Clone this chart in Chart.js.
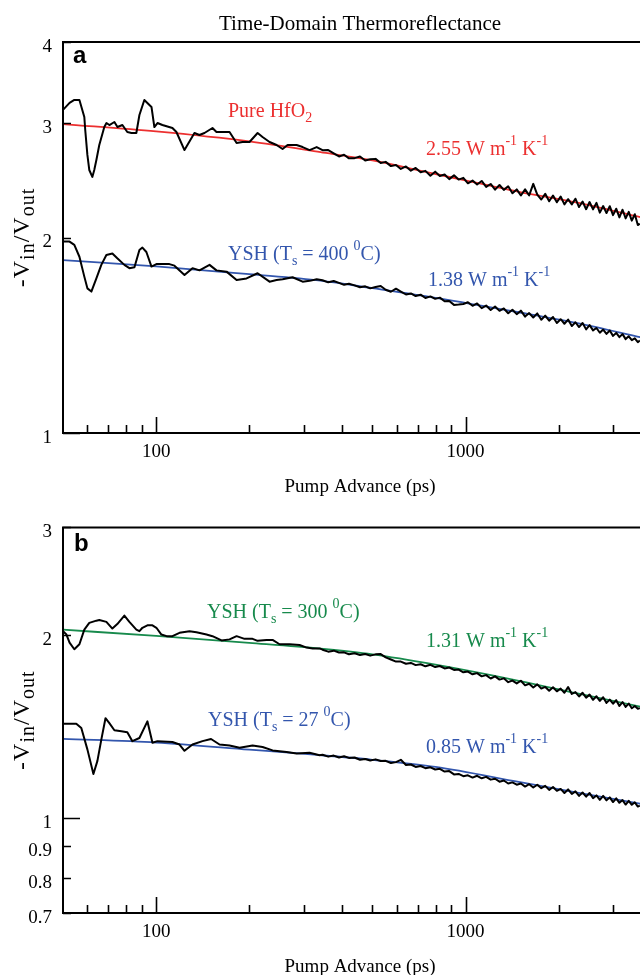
<!DOCTYPE html>
<html><head><meta charset="utf-8">
<script src="https://cdn.jsdelivr.net/npm/chart.js@4/dist/chart.umd.min.js"></script>
<style>
html,body{margin:0;padding:0;overflow:hidden;background:#fff;width:640px;height:975px;}
#wrapA{position:absolute;left:0;top:0;width:720px;height:505px;}
#wrapB{position:absolute;left:0;top:505px;width:720px;height:490px;}
canvas{display:block;}
</style></head><body>
<div id="wrapA"><canvas id="cA" width="720" height="505"></canvas></div>
<div id="wrapB"><canvas id="cB" width="720" height="490"></canvas></div>
<script>
// ---------- DATA ----------
const tailTimes = [345,360,375,390,405,420,438,456,474,492,512,532,552,574,596,618,642,666,690,716,742,770,798,826,856,886,918,950,984,1018,1054,1090,1128,1166,1206,1246,1288,1330,1374,1418,1464,1510,1558,1606,1656,1706,1758,1810,1864,1918,1974,2030,2088,2146,2206,2266,2328,2390,2454,2518,2584,2650,2718,2786,2856,2926,2998,3070,3144,3218,3294,3370,3448,3526,3606,3660];

const hfo2EarlyT = [50,52.5,54.4,56.5,58.6,59.0,59.95,60.8,62.2,63.1,64.1,65.5,68.0,69.1,70.6,73.3,75.0,77.8,80.7,83.2,86.3,88.3,91.6,93.7,96.6,98.7,101,104.8,112.9,116.3,123.5,133,138,143.3,152.1,156.7,162.7,172.7,182,190.3,200.4,212.8,220.8,232.6,245.1,256.3,266,284.5,297.5,313.4,330.3];
const hfo2EarlyV = [3.144,3.223,3.257,3.257,3.066,2.928,2.680,2.541,2.479,2.541,2.633,2.776,2.959,3.001,2.98,3.012,2.959,2.98,2.907,2.897,2.897,3.088,3.257,3.223,3.177,2.959,3.001,2.98,2.949,2.907,2.727,2.897,2.876,2.897,2.949,2.907,2.907,2.907,2.796,2.806,2.806,2.897,2.856,2.806,2.776,2.737,2.776,2.776,2.756,2.727,2.756];
const hfo2TailV = [2.726,2.727,2.695,2.666,2.682,2.648,2.650,2.666,2.628,2.639,2.643,2.604,2.615,2.576,2.587,2.550,2.573,2.535,2.559,2.521,2.533,2.490,2.526,2.487,2.500,2.460,2.493,2.456,2.471,2.424,2.447,2.414,2.444,2.393,2.418,2.370,2.409,2.368,2.398,2.340,2.372,2.321,2.372,2.322,2.419,2.329,2.288,2.335,2.274,2.321,2.266,2.313,2.249,2.291,2.249,2.295,2.228,2.272,2.211,2.268,2.210,2.261,2.184,2.236,2.181,2.235,2.165,2.215,2.148,2.207,2.140,2.190,2.123,2.172,2.090,2.100];

const ysh400EarlyT = [50,52.5,54.4,56.5,58.6,59.95,61.75,64.1,66.5,69.05,72.2,74.9,78.95,81.95,85.1,88.3,90.3,93.0,96.6,100.2,110.4,114.6,123.5,131.1,138.1,148.8,156.7,168.9,182,196,212.8,232.6,245.1,256.3,276.1,297.5,313.4,330.3];
const ysh400EarlyV = [1.971,1.971,1.948,1.868,1.741,1.670,1.651,1.730,1.815,1.880,1.890,1.858,1.815,1.794,1.80,1.913,1.93,1.90,1.804,1.82,1.82,1.81,1.751,1.794,1.78,1.815,1.78,1.772,1.720,1.73,1.762,1.710,1.72,1.725,1.737,1.71,1.715,1.725];
const ysh400TailV = [1.719,1.706,1.714,1.703,1.691,1.698,1.688,1.677,1.682,1.670,1.678,1.684,1.662,1.650,1.668,1.651,1.634,1.640,1.625,1.633,1.614,1.623,1.609,1.616,1.595,1.597,1.575,1.577,1.580,1.590,1.570,1.583,1.557,1.571,1.547,1.566,1.542,1.555,1.529,1.548,1.524,1.543,1.511,1.530,1.506,1.528,1.494,1.516,1.489,1.509,1.477,1.497,1.473,1.495,1.461,1.481,1.456,1.477,1.444,1.466,1.439,1.451,1.427,1.443,1.421,1.438,1.411,1.426,1.405,1.420,1.395,1.409,1.390,1.399,1.380,1.388];

const ysh300EarlyT = [50,51.3,52.5,54.4,56.5,58.6,60.8,64.1,65.5,69.05,72.2,74.9,78.95,81.95,86.3,88.3,90.3,93.7,97.3,100.2,104,108.1,112.9,119,128.2,135,145.5,152.1,162.7,172.7,182,193.1,205,212.8,227.5,237.9,250.6,270,290.9,306.5,320.6,337.8];
const ysh300EarlyV = [2.028,2.002,1.942,1.894,1.930,2.04,2.092,2.11,2.115,2.10,2.048,2.083,2.151,2.10,2.04,2.028,2.054,2.073,2.073,2.054,2.002,1.99,1.99,2.015,2.028,2.02,2.002,1.99,1.958,1.966,1.99,1.97,1.97,1.955,1.962,1.962,1.930,1.93,1.925,1.906,1.90,1.90];
const ysh300TailV = [1.891,1.877,1.884,1.871,1.872,1.859,1.866,1.853,1.860,1.849,1.858,1.860,1.837,1.822,1.808,1.808,1.793,1.799,1.784,1.790,1.776,1.786,1.771,1.778,1.762,1.768,1.752,1.754,1.736,1.741,1.723,1.731,1.710,1.718,1.696,1.710,1.689,1.697,1.673,1.683,1.665,1.682,1.653,1.663,1.639,1.659,1.633,1.643,1.620,1.641,1.616,1.633,1.607,1.642,1.600,1.611,1.585,1.607,1.578,1.596,1.565,1.586,1.559,1.580,1.547,1.566,1.542,1.563,1.529,1.552,1.524,1.543,1.516,1.529,1.513,1.517];

const ysh27EarlyT = [50,55.2,57.3,59.95,62.7,64.6,66.5,68.6,70.6,73.3,77.2,80.7,83.8,88.3,93.7,97.3,101,112.9,119,123.5,131.1,141.2,150.5,160.3,172.7,186.1,205,220.8,237.9,264,284.5,313.4,337.8];
const ysh27EarlyV = [1.43,1.43,1.407,1.298,1.183,1.243,1.347,1.460,1.433,1.395,1.39,1.385,1.339,1.355,1.443,1.331,1.339,1.335,1.322,1.291,1.322,1.339,1.350,1.322,1.317,1.306,1.317,1.31,1.293,1.285,1.278,1.282,1.27];
const ysh27TailV = [1.272,1.263,1.268,1.259,1.265,1.257,1.259,1.248,1.252,1.245,1.250,1.242,1.243,1.233,1.237,1.248,1.224,1.226,1.215,1.219,1.209,1.213,1.203,1.206,1.194,1.196,1.181,1.183,1.173,1.177,1.167,1.175,1.164,1.170,1.158,1.162,1.149,1.154,1.141,1.146,1.136,1.141,1.128,1.138,1.124,1.136,1.121,1.131,1.114,1.126,1.110,1.118,1.101,1.116,1.097,1.108,1.089,1.103,1.086,1.101,1.080,1.091,1.073,1.089,1.071,1.083,1.064,1.079,1.061,1.072,1.054,1.069,1.053,1.063,1.046,1.050];

const fitTimes = [50,100,200,340,500,800,1500,2300,3700];
const fitHfO2  = [2.990,2.913,2.812,2.707,2.628,2.505,2.350,2.263,2.147];
const fitYSH400 = [1.846,1.806,1.756,1.716,1.671,1.615,1.533,1.476,1.403];
const fitYSH300 = [2.039,1.992,1.940,1.898,1.858,1.787,1.680,1.603,1.524];
const fitYSH27  = [1.351,1.332,1.297,1.270,1.248,1.215,1.147,1.103,1.057];

const xTicks = [60,70,80,90,100,200,300,400,500,600,700,800,900,1000,2000,3000,4000];
const xLabels = [100,1000];
const yTicksA = [1,2,3,4];
const yTicksB = [0.7,0.8,0.9,1,2,3];
const yMajor = [1];

// ---------- STYLE ----------
const SERIF = '"Liberation Serif", "Times New Roman", serif';
const RED = '#ec3030', BLUE = '#3356ad', GREEN = '#178a4c';
Chart.defaults.font.family = SERIF;
Chart.defaults.color = '#000';

function pts(ts, vs){ return ts.map((t,i)=>({x:t, y:vs[i]})); }

function rich(ctx, parts, x, y, opt){
  const big = opt.big + 'px ' + SERIF, small = opt.small + 'px ' + SERIF;
  let w = 0;
  parts.forEach(([t,m]) => { ctx.font = m ? small : big; w += ctx.measureText(t).width; });
  let cx = opt.center ? x - w/2 : x;
  parts.forEach(([t,m]) => {
    ctx.font = m ? small : big;
    const dy = m === 'sup' ? opt.sup : (m === 'sub' ? opt.sub : 0);
    ctx.fillText(t, cx, y + dy);
    cx += ctx.measureText(t).width;
  });
}

const framePlugin = {
  id: 'frame',
  afterDraw(chart, args, o){
    const {ctx, chartArea: ca} = chart;
    const xs = chart.scales.x, ys = chart.scales.y;
    ctx.save();
    ctx.strokeStyle = '#000';
    ctx.lineWidth = 2;
    ctx.beginPath();
    ctx.moveTo(ca.left - 1, ca.top); ctx.lineTo(ca.right, ca.top);
    ctx.moveTo(ca.left, ca.top); ctx.lineTo(ca.left, ca.bottom + 1);
    ctx.moveTo(ca.left - 1, ca.bottom); ctx.lineTo(ca.right, ca.bottom);
    ctx.stroke();
    ctx.lineWidth = 1.6;
    ctx.beginPath();
    xTicks.forEach(v => {
      const px = Math.round(xs.getPixelForValue(v)) + 0.5;
      const len = xLabels.includes(v) ? 16 : 8;
      ctx.moveTo(px, ca.bottom); ctx.lineTo(px, ca.bottom - len);
    });
    o.yTicks.forEach(v => {
      const py = Math.round(ys.getPixelForValue(v)) + 0.5;
      const len = yMajor.includes(v) ? 17 : 8;
      ctx.moveTo(ca.left, py); ctx.lineTo(ca.left + len, py);
    });
    ctx.stroke();
    ctx.fillStyle = '#000';
    ctx.textBaseline = 'alphabetic';
    if (o.title) {
      ctx.textAlign = 'center';
      ctx.font = '21px ' + SERIF;
      ctx.fillText(o.title, (ca.left + ca.right) / 2, 30);
    }
    ctx.textAlign = 'left';
    ctx.font = 'bold 24px "Liberation Sans", Arial, sans-serif';
    ctx.fillText(o.letter, o.letterX, o.letterY);
    // y title
    ctx.save();
    ctx.translate(29, (ca.top + ca.bottom) / 2);
    ctx.rotate(-Math.PI / 2);
    try { ctx.letterSpacing = '1px'; } catch (e) {}
    rich(ctx, [['-V',''],['in','sub'],['/V',''],['out','sub']], 0, 0, {big:24, small:20, sup:-10, sub:5, center:true});
    ctx.restore();
    o.notes.forEach(n => {
      ctx.fillStyle = n.color;
      rich(ctx, n.parts, n.x, n.y, {big:20, small:14, sup:-10, sub:5, center:false});
    });
    ctx.restore();
  }
};

function makeChart(id, cfg){
  return new Chart(document.getElementById(id), {
    type: 'line',
    data: { datasets: cfg.datasets },
    options: {
      responsive: false,
      maintainAspectRatio: false,
      animation: false,
      events: [],
      layout: { padding: { top: cfg.padTop, left: 0, right: 63, bottom: 0 } },
      elements: { point: { radius: 0 }, line: { borderJoinStyle: 'round' } },
      plugins: {
        legend: { display: false },
        tooltip: { enabled: false },
        title: { display: false },
        frame: cfg.frame
      },
      scales: {
        x: {
          type: 'logarithmic', min: 50, max: 4159,
          grid: { display: false, drawTicks: false },
          border: { display: false },
          afterBuildTicks: s => { s.ticks = xTicks.map(v => ({ value: v })); },
          afterFit: s => { s.height = cfg.xHeight; },
          ticks: {
            autoSkip: false, maxRotation: 0, padding: 8,
            font: { family: SERIF, size: 19 }, color: '#000',
            callback: v => xLabels.includes(v) ? String(v) : ''
          },
          title: {
            display: true, text: 'Pump Advance (ps)', color: '#000',
            font: { family: SERIF, size: 19 },
            padding: { top: 0, bottom: cfg.xTitlePad }
          }
        },
        y: {
          type: 'logarithmic', min: cfg.yMin, max: cfg.yMax,
          grid: { display: false, drawTicks: false },
          border: { display: false },
          afterBuildTicks: s => { s.ticks = cfg.yTicks.map(v => ({ value: v })); },
          afterFit: s => { s.width = 63; },
          ticks: {
            autoSkip: false, padding: 11, labelOffset: 5,
            font: { family: SERIF, size: 19 }, color: '#000',
            callback: v => String(v)
          }
        }
      }
    },
    plugins: [framePlugin]
  });
}

const blackStyle = { borderColor: '#000', borderWidth: 2, fill: false, tension: 0 };
const fitStyle = c => ({ borderColor: c, borderWidth: 1.8, fill: false, cubicInterpolationMode: 'monotone' });

makeChart('cA', {
  padTop: 42, xHeight: 72, xTitlePad: 7, yMin: 1, yMax: 4, yTicks: yTicksA,
  datasets: [
    Object.assign({ label: 'Pure HfO2 data', data: pts(hfo2EarlyT.concat(tailTimes), hfo2EarlyV.concat(hfo2TailV)) }, blackStyle),
    Object.assign({ label: 'YSH 400 C data', data: pts(ysh400EarlyT.concat(tailTimes), ysh400EarlyV.concat(ysh400TailV)) }, blackStyle),
    Object.assign({ label: 'Pure HfO2 fit', data: pts(fitTimes, fitHfO2) }, fitStyle(RED)),
    Object.assign({ label: 'YSH 400 C fit', data: pts(fitTimes, fitYSH400) }, fitStyle(BLUE))
  ],
  frame: {
    title: 'Time-Domain Thermoreflectance',
    yTicks: yTicksA, letter: 'a', letterX: 73, letterY: 63,
    notes: [
      { x: 228, y: 117, color: RED, parts: [['Pure HfO',''],['2','sub']] },
      { x: 426, y: 155, color: RED, parts: [['2.55 W m',''],['-1','sup'],[' K',''],['-1','sup']] },
      { x: 228, y: 260, color: BLUE, parts: [['YSH (T',''],['s','sub'],[' = 400 ',''],['0','sup'],['C)','']] },
      { x: 428, y: 286, color: BLUE, parts: [['1.38 W m',''],['-1','sup'],[' K',''],['-1','sup']] }
    ]
  }
});

makeChart('cB', {
  padTop: 16, xHeight: 82, xTitlePad: 17, yMin: 0.7, yMax: 3, yTicks: yTicksB,
  datasets: [
    Object.assign({ label: 'YSH 300 C data', data: pts(ysh300EarlyT.concat(tailTimes), ysh300EarlyV.concat(ysh300TailV)) }, blackStyle),
    Object.assign({ label: 'YSH 27 C data', data: pts(ysh27EarlyT.concat(tailTimes), ysh27EarlyV.concat(ysh27TailV)) }, blackStyle),
    Object.assign({ label: 'YSH 300 C fit', data: pts(fitTimes, fitYSH300) }, fitStyle(GREEN)),
    Object.assign({ label: 'YSH 27 C fit', data: pts(fitTimes, fitYSH27) }, fitStyle(BLUE))
  ],
  frame: {
    title: null,
    yTicks: yTicksB, letter: 'b', letterX: 74, letterY: 46,
    notes: [
      { x: 207, y: 113, color: GREEN, parts: [['YSH (T',''],['s','sub'],[' = 300 ',''],['0','sup'],['C)','']] },
      { x: 426, y: 142, color: GREEN, parts: [['1.31 W m',''],['-1','sup'],[' K',''],['-1','sup']] },
      { x: 208, y: 221, color: BLUE, parts: [['YSH (T',''],['s','sub'],[' = 27 ',''],['0','sup'],['C)','']] },
      { x: 426, y: 248, color: BLUE, parts: [['0.85 W m',''],['-1','sup'],[' K',''],['-1','sup']] }
    ]
  }
});
</script></body></html>
